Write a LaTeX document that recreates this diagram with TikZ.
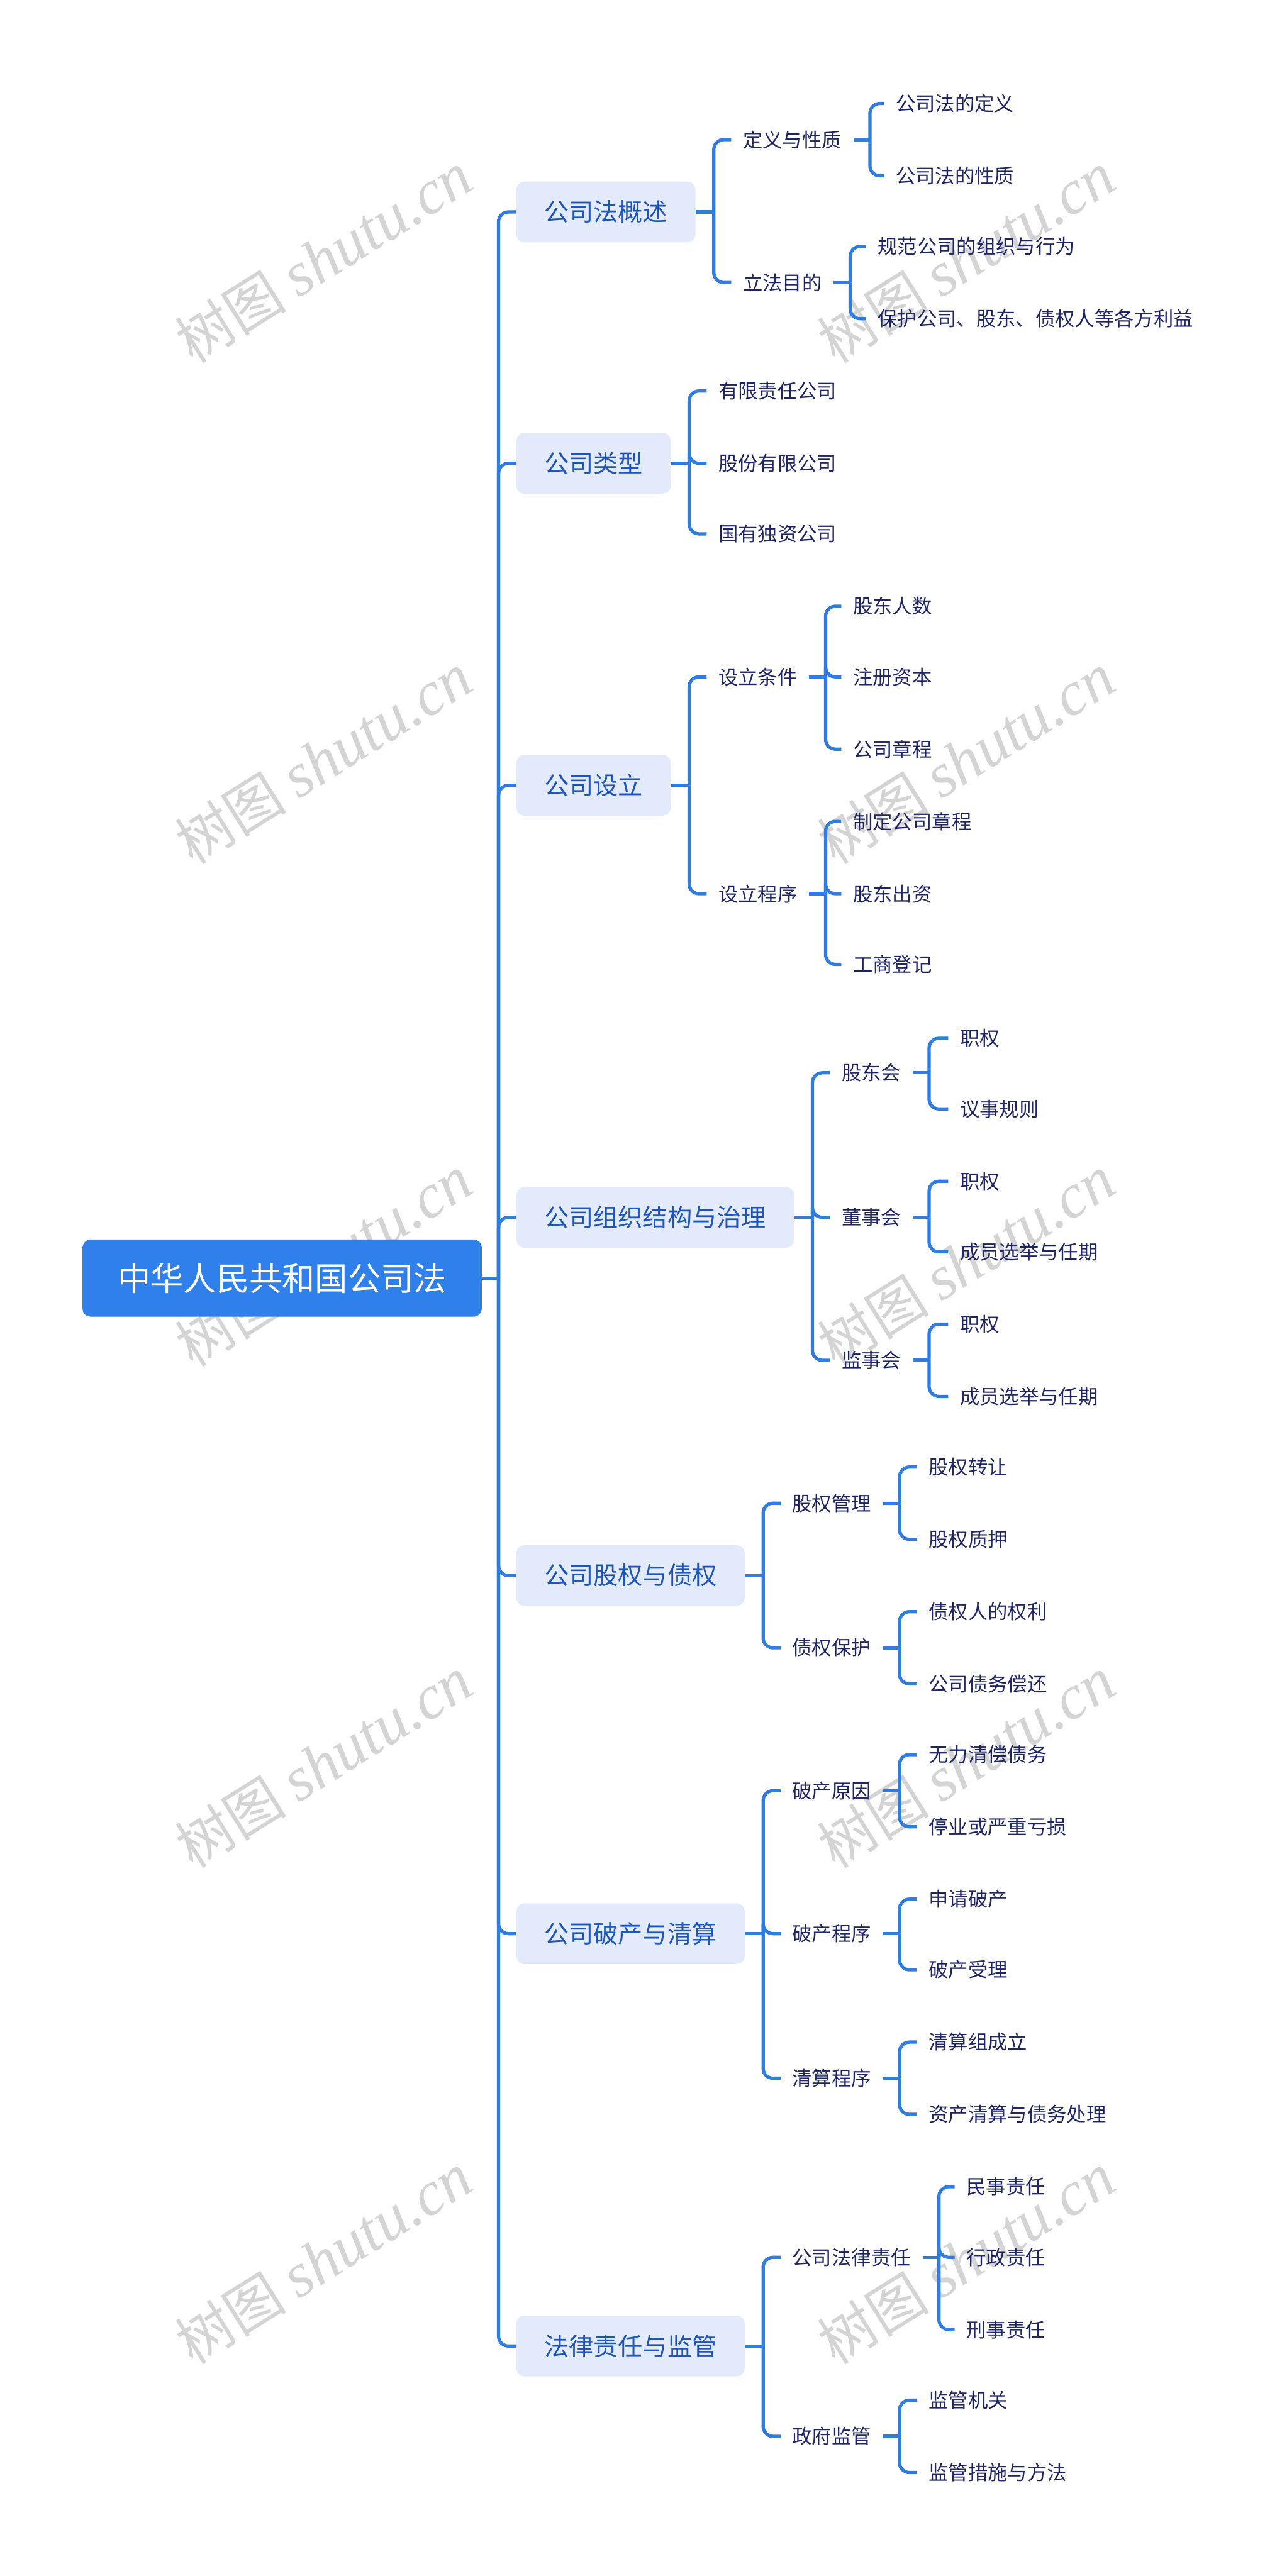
\documentclass[tikz,border=0pt]{standalone}
\usepackage{fontspec}
\newfontfamily\cjk{Noto Sans CJK SC}
\newfontfamily\wmfont{Liberation Serif}
\definecolor{rootblue}{HTML}{2F80EB}
\definecolor{lineblue}{HTML}{2F7DE1}
\definecolor{topicfill}{HTML}{E2EAFB}
\definecolor{topictext}{HTML}{1D56B8}
\definecolor{leaftext}{HTML}{1E2566}
\definecolor{wmgray}{HTML}{D4D4D4}
\begin{document}
\begin{tikzpicture}[x=1pt,y=-1pt,
  conn/.style={draw=lineblue,line width=2pt,rounded corners=6pt},
  rootbox/.style={fill=rootblue,rounded corners=5pt,text=white,font=\cjk\fontsize{20}{24}\selectfont,inner xsep=21.5pt,inner ysep=0pt,minimum height=47pt,anchor=west},
  topicbox/.style={fill=topicfill,rounded corners=5pt,text=topictext,font=\cjk\fontsize{15}{18}\selectfont,inner xsep=17pt,inner ysep=0pt,minimum height=37pt,anchor=west},
  subnode/.style={text=leaftext,font=\cjk\fontsize{12}{14}\selectfont,inner xsep=7pt,inner ysep=2pt,anchor=west},
  wm/.style={text=wmgray,rotate=32,inner sep=0pt}
]
\useasboundingbox[fill=white] (0,0) rectangle (780,1568);

% watermarks
\foreach \wy [count=\i] in {157,462,768,1073,1375}{
  \node[wm] (wmL\i) at (197,\wy) {\cjk\fontsize{34}{38}\selectfont 树图\ \wmfont\itshape\fontsize{38}{42}\selectfont shutu.cn};
  \node[wm] (wmR\i) at (588,\wy) {\cjk\fontsize{34}{38}\selectfont 树图\ \wmfont\itshape\fontsize{38}{42}\selectfont shutu.cn};
}

% root
\node[rootbox] (root) at (50,778) {中华人民共和国公司法};

% level 1
\node[topicbox] (A) at (314,129) {公司法概述};
\node[topicbox] (B) at (314,282) {公司类型};
\node[topicbox] (C) at (314,478) {公司设立};
\node[topicbox] (D) at (314,741) {公司组织结构与治理};
\node[topicbox] (E) at (314,959) {公司股权与债权};
\node[topicbox] (F) at (314,1177) {公司破产与清算};
\node[topicbox] (G) at (314,1428) {法律责任与监管};

% level 2 / 3
\node[subnode] (A1) at (445,85) {定义与性质};
\node[subnode] (A2) at (445,172) {立法目的};
\node[subnode] (A1a) at (538,63) {公司法的定义};
\node[subnode] (A1b) at (538,107) {公司法的性质};
\node[subnode] (A2a) at (527,150) {规范公司的组织与行为};
\node[subnode] (A2b) at (527,194) {保护公司、股东、债权人等各方利益};

\node[subnode] (B1) at (430,238) {有限责任公司};
\node[subnode] (B2) at (430,282) {股份有限公司};
\node[subnode] (B3) at (430,325) {国有独资公司};

\node[subnode] (C1) at (430,412) {设立条件};
\node[subnode] (C2) at (430,544) {设立程序};
\node[subnode] (C1a) at (512,369) {股东人数};
\node[subnode] (C1b) at (512,412) {注册资本};
\node[subnode] (C1c) at (512,456) {公司章程};
\node[subnode] (C2a) at (512,500) {制定公司章程};
\node[subnode] (C2b) at (512,544) {股东出资};
\node[subnode] (C2c) at (512,587) {工商登记};

\node[subnode] (D1) at (505,653) {股东会};
\node[subnode] (D2) at (505,741) {董事会};
\node[subnode] (D3) at (505,828) {监事会};
\node[subnode] (D1a) at (577,632) {职权};
\node[subnode] (D1b) at (577,675) {议事规则};
\node[subnode] (D2a) at (577,719) {职权};
\node[subnode] (D2b) at (577,762) {成员选举与任期};
\node[subnode] (D3a) at (577,806) {职权};
\node[subnode] (D3b) at (577,850) {成员选举与任期};

\node[subnode] (E1) at (475,915) {股权管理};
\node[subnode] (E2) at (475,1003) {债权保护};
\node[subnode] (E1a) at (558,893) {股权转让};
\node[subnode] (E1b) at (558,937) {股权质押};
\node[subnode] (E2a) at (558,981) {债权人的权利};
\node[subnode] (E2b) at (558,1025) {公司债务偿还};

\node[subnode] (F1) at (475,1090) {破产原因};
\node[subnode] (F2) at (475,1177) {破产程序};
\node[subnode] (F3) at (475,1265) {清算程序};
\node[subnode] (F1a) at (558,1068) {无力清偿债务};
\node[subnode] (F1b) at (558,1112) {停业或严重亏损};
\node[subnode] (F2a) at (558,1156) {申请破产};
\node[subnode] (F2b) at (558,1199) {破产受理};
\node[subnode] (F3a) at (558,1243) {清算组成立};
\node[subnode] (F3b) at (558,1287) {资产清算与债务处理};

\node[subnode] (G1) at (475,1374) {公司法律责任};
\node[subnode] (G2) at (475,1483) {政府监管};
\node[subnode] (G1a) at (581,1331) {民事责任};
\node[subnode] (G1b) at (581,1374) {行政责任};
\node[subnode] (G1c) at (581,1418) {刑事责任};
\node[subnode] (G2a) at (558,1461) {监管机关};
\node[subnode] (G2b) at (558,1505) {监管措施与方法};

% connectors: root -> level 1
\draw[conn] (root.east) -- ++(10,0) coordinate (j0);
\foreach \c in {A,B,C,D,E,F,G} \draw[conn] (j0) |- (\c.west);

% level 1 -> level 2
\draw[conn] (A.east) -- ++(11,0) coordinate (jA);
\foreach \c in {A1,A2} \draw[conn] (jA) |- (\c.west);
\draw[conn] (B.east) -- ++(11,0) coordinate (jB);
\foreach \c in {B1,B2,B3} \draw[conn] (jB) |- (\c.west);
\draw[conn] (C.east) -- ++(11,0) coordinate (jC);
\foreach \c in {C1,C2} \draw[conn] (jC) |- (\c.west);
\draw[conn] (D.east) -- ++(11,0) coordinate (jD);
\foreach \c in {D1,D2,D3} \draw[conn] (jD) |- (\c.west);
\draw[conn] (E.east) -- ++(11,0) coordinate (jE);
\foreach \c in {E1,E2} \draw[conn] (jE) |- (\c.west);
\draw[conn] (F.east) -- ++(11,0) coordinate (jF);
\foreach \c in {F1,F2,F3} \draw[conn] (jF) |- (\c.west);
\draw[conn] (G.east) -- ++(11,0) coordinate (jG);
\foreach \c in {G1,G2} \draw[conn] (jG) |- (\c.west);

% level 2 -> level 3
\draw[conn] (A1.east) -- ++(10,0) coordinate (jA1);
\foreach \c in {A1a,A1b} \draw[conn] (jA1) |- (\c.west);
\draw[conn] (A2.east) -- ++(10,0) coordinate (jA2);
\foreach \c in {A2a,A2b} \draw[conn] (jA2) |- (\c.west);
\draw[conn] (C1.east) -- ++(10,0) coordinate (jC1);
\foreach \c in {C1a,C1b,C1c} \draw[conn] (jC1) |- (\c.west);
\draw[conn] (C2.east) -- ++(10,0) coordinate (jC2);
\foreach \c in {C2a,C2b,C2c} \draw[conn] (jC2) |- (\c.west);
\draw[conn] (D1.east) -- ++(10,0) coordinate (jD1);
\foreach \c in {D1a,D1b} \draw[conn] (jD1) |- (\c.west);
\draw[conn] (D2.east) -- ++(10,0) coordinate (jD2);
\foreach \c in {D2a,D2b} \draw[conn] (jD2) |- (\c.west);
\draw[conn] (D3.east) -- ++(10,0) coordinate (jD3);
\foreach \c in {D3a,D3b} \draw[conn] (jD3) |- (\c.west);
\draw[conn] (E1.east) -- ++(10,0) coordinate (jE1);
\foreach \c in {E1a,E1b} \draw[conn] (jE1) |- (\c.west);
\draw[conn] (E2.east) -- ++(10,0) coordinate (jE2);
\foreach \c in {E2a,E2b} \draw[conn] (jE2) |- (\c.west);
\draw[conn] (F1.east) -- ++(10,0) coordinate (jF1);
\foreach \c in {F1a,F1b} \draw[conn] (jF1) |- (\c.west);
\draw[conn] (F2.east) -- ++(10,0) coordinate (jF2);
\foreach \c in {F2a,F2b} \draw[conn] (jF2) |- (\c.west);
\draw[conn] (F3.east) -- ++(10,0) coordinate (jF3);
\foreach \c in {F3a,F3b} \draw[conn] (jF3) |- (\c.west);
\draw[conn] (G1.east) -- ++(10,0) coordinate (jG1);
\foreach \c in {G1a,G1b,G1c} \draw[conn] (jG1) |- (\c.west);
\draw[conn] (G2.east) -- ++(10,0) coordinate (jG2);
\foreach \c in {G2a,G2b} \draw[conn] (jG2) |- (\c.west);
\end{tikzpicture}
\end{document}
